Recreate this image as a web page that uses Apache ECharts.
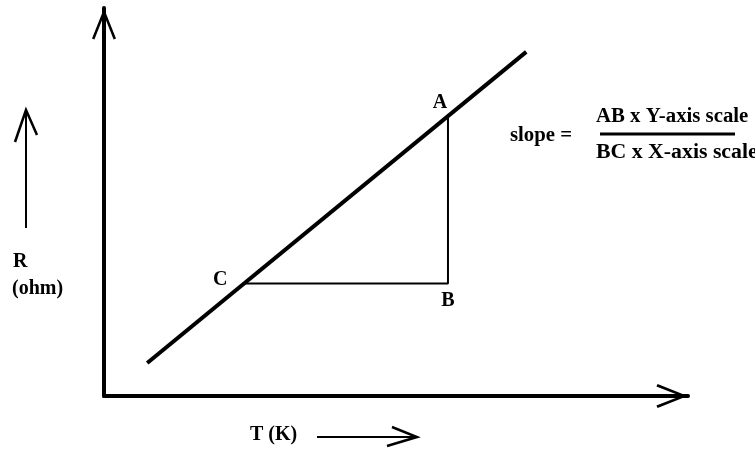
<!DOCTYPE html>
<html>
<head>
<meta charset="utf-8">
<script src="https://cdn.jsdelivr.net/npm/echarts@6/dist/echarts.min.js"></script>
<style>
  html, body { margin: 0; padding: 0; background: #fff; }
  #chart { width: 755px; height: 450px; }
</style>
</head>
<body>
<div id="chart"></div>
<script>
// R against T, arbitrary units (0..100 on both axes)
const lineT = [7.4, 72.3];
const lineR = [8.5, 88.7];

// triangle used to read the slope: C -> B -> A
const pointNames = ['C', 'B', 'A'];
const pointT = [24.0, 58.9, 58.9];
const pointR = [29.0, 29.0, 72.2];

const yLabel = ['R', '(ohm)'];
const xLabel = 'T (K)';
const slopeText = 'slope =';
const numerText = 'AB x Y-axis scale';
const denomText = 'BC x X-axis scale';

const font = 'Liberation Serif';
// open chevron used as the axis arrow head
const chevron = 'path://M12,0 L24,30 L21.6,31.2 L12,6.8 L2.4,31.2 L0,30 Z';
const labelOffset = { C: [-24, -4], B: [0, 17], A: [-8, -13] };

const chart = echarts.init(document.getElementById('chart'));

const axisCommon = {
  type: 'value',
  min: 0,
  max: 100,
  axisLine: {
    show: true,
    lineStyle: { color: '#000', width: 4 },
    symbol: ['none', chevron],
    symbolSize: [24, 33],
    symbolOffset: [0, -16]
  },
  axisTick: { show: false },
  axisLabel: { show: false },
  splitLine: { show: false }
};

const textStyle = (s) => ({
  text: s,
  font: 'bold 20px "' + font + '"',
  fill: '#000',
  align: 'left',
  verticalAlign: 'middle'
});

chart.setOption({
  animation: false,
  backgroundColor: '#fff',
  grid: { left: 104, top: 8, right: 67, bottom: 54 },
  xAxis: axisCommon,
  yAxis: axisCommon,
  series: [
    {
      type: 'line',
      data: lineT.map((t, i) => [t, lineR[i]]),
      symbol: 'none',
      lineStyle: { color: '#000', width: 4 }
    },
    {
      type: 'line',
      data: pointT.map((t, i) => [t, pointR[i]]),
      symbol: 'none',
      lineStyle: { color: '#000', width: 2 }
    },
    {
      type: 'scatter',
      symbolSize: 1,
      itemStyle: { color: 'rgba(0,0,0,0)', opacity: 1 },
      data: pointNames.map((n, i) => ({
        name: n,
        value: [pointT[i], pointR[i]],
        label: { offset: labelOffset[n] }
      })),
      label: {
        show: true,
        position: 'inside',
        formatter: '{b}',
        color: '#000',
        opacity: 1,
        fontFamily: font,
        fontWeight: 'bold',
        fontSize: 20
      }
    }
  ],
  graphic: [
    // small arrow beside R
    { type: 'line', shape: { x1: 26, y1: 228, x2: 26, y2: 112 }, style: { stroke: '#000', lineWidth: 2 } },
    { type: 'polyline', shape: { points: [[15, 142], [26, 110], [37, 135]] }, style: { stroke: '#000', lineWidth: 2.5, fill: null } },
    // small arrow beside T
    { type: 'line', shape: { x1: 317, y1: 437, x2: 415, y2: 437 }, style: { stroke: '#000', lineWidth: 2 } },
    { type: 'polyline', shape: { points: [[392, 427], [417, 437], [387, 446]] }, style: { stroke: '#000', lineWidth: 2.5, fill: null } },
    // axis names
    { type: 'text', x: 13, y: 262, style: textStyle(yLabel[0]) },
    { type: 'text', x: 12, y: 289, style: textStyle(yLabel[1]) },
    { type: 'text', x: 250, y: 435, style: textStyle(xLabel) },
    // slope formula
    { type: 'text', x: 510, y: 136, scaleX: 1.04, style: textStyle(slopeText) },
    { type: 'text', x: 596, y: 117, scaleX: 1.04, style: textStyle(numerText) },
    { type: 'line', shape: { x1: 600, y1: 134, x2: 735, y2: 134 }, style: { stroke: '#000', lineWidth: 3 } },
    { type: 'text', x: 596, y: 153, scaleX: 1.09, style: textStyle(denomText) }
  ]
});
</script>
</body>
</html>
